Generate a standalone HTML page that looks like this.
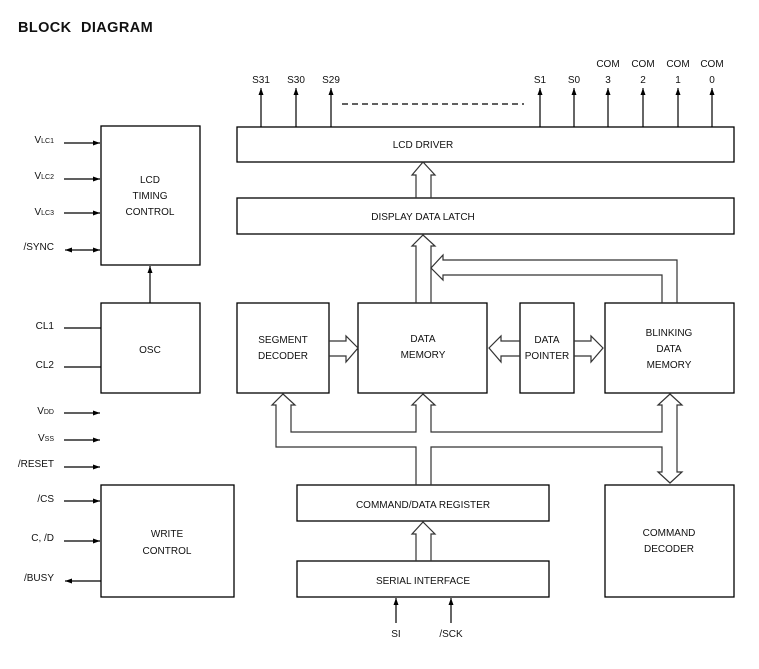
<!DOCTYPE html>
<html><head><meta charset="utf-8"><style>
html,body{margin:0;padding:0;background:#fff;}
svg{display:block;}
text{font-family:"Liberation Sans",Arial,sans-serif;font-size:10px;fill:#111;}
</style></head><body>
<svg width="759" height="669" viewBox="0 0 759 669" xmlns="http://www.w3.org/2000/svg">
<defs>
<marker id="ah" markerWidth="8" markerHeight="6" refX="7" refY="3" orient="auto" markerUnits="userSpaceOnUse">
<path d="M0,0.5 L7,3 L0,5.5 z" fill="#000"/></marker>
</defs>
<text x="18" y="32" style="font-size:14.5px;font-weight:bold;letter-spacing:0.4px;word-spacing:5px;">BLOCK DIAGRAM</text>

<g fill="none" stroke="#000" stroke-width="1.3">
<rect x="237" y="127" width="497" height="35"/>
<rect x="237" y="198" width="497" height="36"/>
<rect x="101" y="126" width="99" height="139"/>
<rect x="101" y="303" width="99" height="90"/>
<rect x="237" y="303" width="92" height="90"/>
<rect x="358" y="303" width="129" height="90"/>
<rect x="520" y="303" width="54" height="90"/>
<rect x="605" y="303" width="129" height="90"/>
<rect x="297" y="485" width="252" height="36"/>
<rect x="297" y="561" width="252" height="36"/>
<rect x="101" y="485" width="133" height="112"/>
<rect x="605" y="485" width="129" height="112"/>
</g>

<!-- top pins -->
<g stroke="#000" stroke-width="1.2" marker-end="url(#ah)">
<line x1="261" y1="127" x2="261" y2="88"/><line x1="296" y1="127" x2="296" y2="88"/>
<line x1="331" y1="127" x2="331" y2="88"/><line x1="540" y1="127" x2="540" y2="88"/>
<line x1="574" y1="127" x2="574" y2="88"/><line x1="608" y1="127" x2="608" y2="88"/>
<line x1="643" y1="127" x2="643" y2="88"/><line x1="678" y1="127" x2="678" y2="88"/>
<line x1="712" y1="127" x2="712" y2="88"/>
</g>
<line x1="342" y1="104" x2="524" y2="104" stroke="#000" stroke-width="1.2" stroke-dasharray="6,4"/>
<g text-anchor="middle">
<text x="261" y="83">S31</text><text x="296" y="83">S30</text><text x="331" y="83">S29</text>
<text x="540" y="83">S1</text><text x="574" y="83">S0</text>
<text x="608" y="67">COM</text><text x="643" y="67">COM</text><text x="678" y="67">COM</text><text x="712" y="67">COM</text>
<text x="608" y="83">3</text><text x="643" y="83">2</text><text x="678" y="83">1</text><text x="712" y="83">0</text>
<text x="423" y="148">LCD DRIVER</text>
<text x="423" y="220">DISPLAY DATA LATCH</text>
<text x="150" y="183">LCD</text><text x="150" y="199">TIMING</text><text x="150" y="215">CONTROL</text>
<text x="150" y="353">OSC</text>
<text x="283" y="343">SEGMENT</text><text x="283" y="359">DECODER</text>
<text x="423" y="342">DATA</text><text x="423" y="358">MEMORY</text>
<text x="547" y="343">DATA</text><text x="547" y="359">POINTER</text>
<text x="669" y="336">BLINKING</text><text x="669" y="352">DATA</text><text x="669" y="368">MEMORY</text>
<text x="423" y="508">COMMAND/DATA REGISTER</text>
<text x="423" y="584">SERIAL INTERFACE</text>
<text x="167" y="537">WRITE</text><text x="167" y="554">CONTROL</text>
<text x="669" y="536">COMMAND</text><text x="669" y="552">DECODER</text>
<text x="396" y="637">SI</text><text x="451" y="637">/SCK</text>
</g>

<!-- left pins -->
<g text-anchor="end">
<text x="54" y="143">V<tspan style="font-size:7px">LC1</tspan></text>
<text x="54" y="179">V<tspan style="font-size:7px">LC2</tspan></text>
<text x="54" y="215">V<tspan style="font-size:7px">LC3</tspan></text>
<text x="54" y="250">/SYNC</text>
<text x="54" y="329">CL1</text>
<text x="54" y="368">CL2</text>
<text x="54" y="414">V<tspan style="font-size:7px">DD</tspan></text>
<text x="54" y="441">V<tspan style="font-size:7px">SS</tspan></text>
<text x="54" y="467">/RESET</text>
<text x="54" y="502">/CS</text>
<text x="54" y="541">C, /D</text>
<text x="54" y="581">/BUSY</text>
</g>
<g stroke="#000" stroke-width="1.2">
<line x1="64" y1="143" x2="100" y2="143" marker-end="url(#ah)"/>
<line x1="64" y1="179" x2="100" y2="179" marker-end="url(#ah)"/>
<line x1="64" y1="213" x2="100" y2="213" marker-end="url(#ah)"/>
<line x1="80" y1="250" x2="100" y2="250" marker-end="url(#ah)"/>
<line x1="80" y1="250" x2="65" y2="250" marker-end="url(#ah)"/>
<line x1="150" y1="303" x2="150" y2="266" marker-end="url(#ah)"/>
<line x1="64" y1="328" x2="101" y2="328"/>
<line x1="64" y1="367" x2="101" y2="367"/>
<line x1="64" y1="413" x2="100" y2="413" marker-end="url(#ah)"/>
<line x1="64" y1="440" x2="100" y2="440" marker-end="url(#ah)"/>
<line x1="64" y1="467" x2="100" y2="467" marker-end="url(#ah)"/>
<line x1="64" y1="501" x2="100" y2="501" marker-end="url(#ah)"/>
<line x1="64" y1="541" x2="100" y2="541" marker-end="url(#ah)"/>
<line x1="101" y1="581" x2="65" y2="581" marker-end="url(#ah)"/>
<line x1="396" y1="623" x2="396" y2="598" marker-end="url(#ah)"/>
<line x1="451" y1="623" x2="451" y2="598" marker-end="url(#ah)"/>
</g>

<!-- wide arrows -->
<g fill="none" stroke="#333" stroke-width="1.2" stroke-linejoin="miter">
<path d="M416,198 L416,175 L412,175 L423,162 L435,175 L431,175 L431,198"/>
<path d="M416,303 L416,246 L412,246 L423,235 L435,246 L431,246 L431,303"/>
<path d="M662,303 L662,275 L443,275 L443,280 L431,268 L443,255 L443,260 L677,260 L677,303"/>
<path d="M329,341 L346,341 L346,336 L358,348 L346,362 L346,356 L329,356"/>
<path d="M520,341 L501,341 L501,336 L489,348 L501,362 L501,356 L520,356"/>
<path d="M574,341 L591,341 L591,336 L603,348 L591,362 L591,356 L574,356"/>
<path d="M416,485 L416,447 L276,447 L276,405 L272,405 L283,394 L295,405 L291,405 L291,432 L416,432 L416,405 L412,405 L423,394 L435,405 L431,405 L431,432 L662,432 L662,405 L658,405 L670,394 L682,405 L677,405 L677,472 L682,472 L670,483 L658,472 L662,472 L662,447 L431,447 L431,485"/>
<path d="M416,561 L416,534 L412,534 L423,522 L435,534 L431,534 L431,561"/>
</g>
</svg>
</body></html>
